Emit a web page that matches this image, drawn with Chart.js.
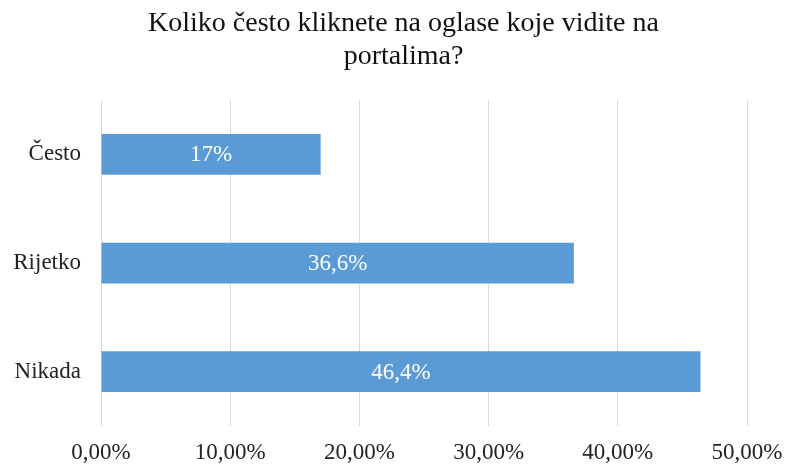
<!DOCTYPE html>
<html>
<head>
<meta charset="utf-8">
<script src="https://cdn.jsdelivr.net/npm/chart.js@4/dist/chart.umd.min.js"></script>
<style>
  html, body { margin: 0; padding: 0; background: #fff; }
  #wrap { width: 787px; height: 464px; }
</style>
</head>
<body>
<div id="wrap"><canvas id="clickChart"></canvas></div>
<script>
var categories = ["Često", "Rijetko", "Nikada"];
var values = [17, 36.6, 46.4];
var valueLabels = ["17%", "36,6%", "46,4%"];
var titleLines = ["Koliko često kliknete na oglase koje vidite na", "portalima?"];

var serif = "'Liberation Serif', 'Times New Roman', serif";

// white labels in the middle of each bar
var barLabels = {
  id: "barLabels",
  afterLayout: function (chart) {
    // title in the original sits a bit right of the canvas centre
    if (chart.titleBlock) chart.titleBlock.left = 20;
  },
  afterDatasetsDraw: function (chart) {
    var ctx = chart.ctx;
    var meta = chart.getDatasetMeta(0);
    ctx.save();
    ctx.font = "23px " + serif;
    ctx.fillStyle = "#ffffff";
    ctx.textAlign = "center";
    ctx.textBaseline = "middle";
    meta.data.forEach(function (bar, i) {
      ctx.fillText(valueLabels[i], (bar.x + bar.base) / 2, bar.y + 1);
    });
    ctx.restore();
  },
};

var ctx = document.getElementById("clickChart").getContext("2d");
var myChart = new Chart(ctx, {
  type: "bar",
  data: {
    labels: categories,
    datasets: [
      {
        data: values,
        backgroundColor: "#5b9bd5",
        categoryPercentage: 0.75,
        barPercentage: 0.5,
      },
    ],
  },
  options: {
    indexAxis: "y",
    responsive: true,
    maintainAspectRatio: false,
    animation: false,
    layout: { padding: 0 },
    plugins: {
      legend: { display: false },
      tooltip: { enabled: false },
      title: {
        display: true,
        text: titleLines,
        color: "#111",
        font: { family: serif, size: 28, weight: "normal", lineHeight: 1.18 },
        padding: { top: 7, bottom: 27 },
      },
    },
    scales: {
      x: {
        min: 0,
        max: 50,
        ticks: {
          stepSize: 10,
          color: "#222",
          padding: 13,
          font: { family: serif, size: 23 },
          callback: function (v) {
            return v.toFixed(2).replace(".", ",") + "%";
          },
        },
        grid: { color: "#d9d9d9", drawTicks: false },
        border: { display: false },
        afterFit: function (scale) {
          scale.height = 38;
          scale.paddingLeft = 0;
          scale.paddingRight = 40;
        },
      },
      y: {
        ticks: {
          color: "#222",
          padding: 12,
          font: { family: serif, size: 23 },
        },
        grid: { display: false },
        border: { display: false },
        afterFit: function (scale) {
          scale.width = 101;
        },
      },
    },
  },
  plugins: [barLabels],
});
</script>
</body>
</html>
